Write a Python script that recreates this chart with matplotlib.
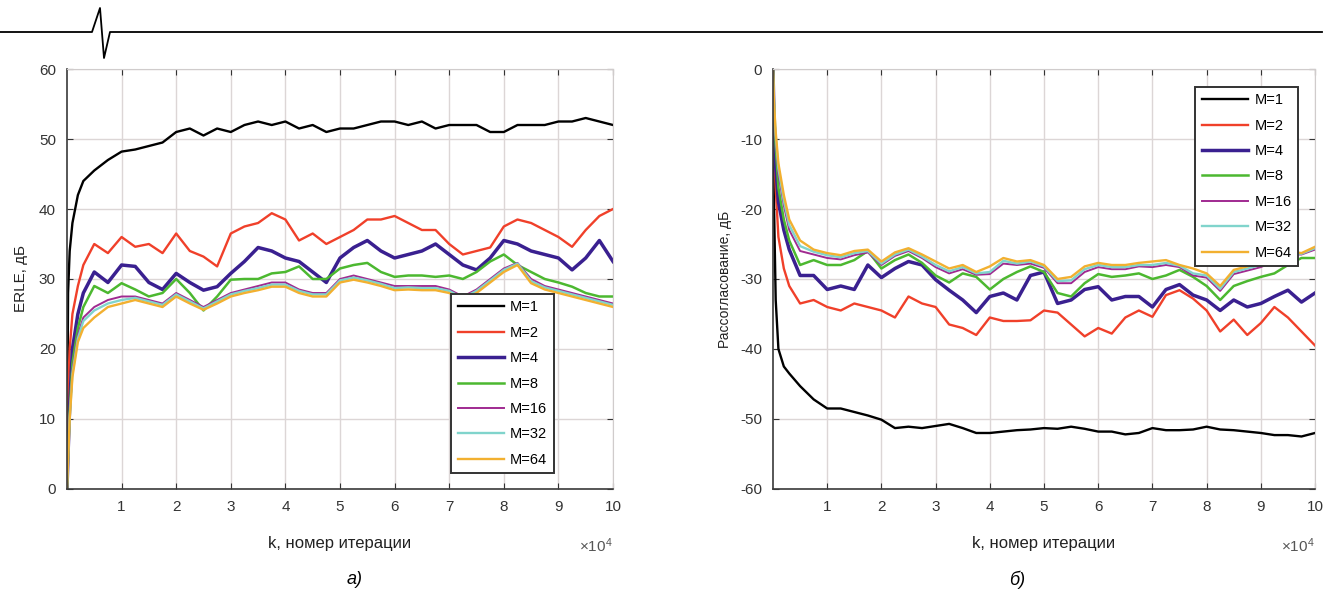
import matplotlib
matplotlib.use("Agg")
import matplotlib.pyplot as plt
from matplotlib.lines import Line2D

plt.rcParams['font.family'] = ['Liberation Sans', 'DejaVu Sans']
plt.rcParams['mathtext.fontset'] = 'custom'
plt.rcParams['mathtext.rm'] = 'Liberation Sans'
plt.rcParams['mathtext.it'] = 'Liberation Sans:italic'
plt.rcParams['axes.unicode_minus'] = False

# iteration index, in units of 1e4
k = [0, 0.02, 0.05, 0.1, 0.2, 0.3, 0.5, 0.75, 1.0, 1.25, 1.5, 1.75, 2.0, 2.25, 2.5, 2.75,
     3.0, 3.25, 3.5, 3.75, 4.0, 4.25, 4.5, 4.75, 5.0, 5.25, 5.5, 5.75, 6.0, 6.25, 6.5, 6.75,
     7.0, 7.25, 7.5, 7.75, 8.0, 8.25, 8.5, 8.75, 9.0, 9.25, 9.5, 9.75, 10.0]

labels = ['M=1', 'M=2', 'M=4', 'M=8', 'M=16', 'M=32', 'M=64']
colors = ['#000000', '#f0402a', '#3a2090', '#4cb830', '#a02a90', '#80d4cc', '#f2b030']
widths = [1.7, 1.7, 2.5, 1.8, 1.4, 1.7, 1.7]

# (a) ERLE, dB
erle_m1 = [0, 28, 34, 38, 42, 44, 45.5, 47, 48.2, 48.5, 49, 49.5, 51, 51.5, 50.5, 51.5,
           51, 52, 52.5, 52, 52.5, 51.5, 52, 51, 51.5, 51.5, 52, 52.5, 52.5, 52, 52.5, 51.5,
           52, 52, 52, 51, 51, 52, 52, 52, 52.5, 52.5, 53, 52.5, 52]
erle_m2 = [0, 14, 20, 25, 29, 32, 35, 33.7, 36, 34.6, 35, 33.7, 36.5, 34, 33.2, 31.8,
           36.5, 37.5, 38, 39.4, 38.5, 35.5, 36.5, 35, 36, 37, 38.5, 38.5, 39, 38, 37, 37,
           35, 33.5, 34, 34.5, 37.5, 38.5, 38, 37, 36, 34.6, 37, 39, 40]
erle_m4 = [0, 5, 12, 20, 25, 28, 31, 29.5, 32, 31.8, 29.5, 28.5, 30.8, 29.5, 28.4, 28.9,
           30.8, 32.5, 34.5, 34, 33, 32.5, 31, 29.5, 33, 34.5, 35.5, 34, 33, 33.5, 34, 35,
           33.5, 32, 31.3, 33, 35.5, 35, 34, 33.5, 33, 31.3, 33, 35.5, 32.5]
erle_m8 = [0, 5, 11, 18, 23, 26, 29, 28, 29.4, 28.5, 27.5, 28, 30, 28, 25.5, 27.5,
           29.9, 30, 30, 30.8, 31, 31.8, 30, 30, 31.5, 32, 32.3, 31, 30.3, 30.5, 30.5, 30.3,
           30.5, 30, 31, 32.5, 33.5, 32, 31, 30, 29.5, 28.9, 28, 27.5, 27.5]
erle_m16 = [0, 4.5, 10.5, 17, 22, 24.5, 26, 27, 27.5, 27.5, 27, 26.5, 28, 27, 26, 27,
            28, 28.5, 29, 29.5, 29.5, 28.5, 28, 28, 30, 30.5, 30, 29.5, 29, 29, 29, 29,
            28.5, 27.5, 28.5, 30, 31.5, 32.3, 30, 29, 28.5, 28, 27.5, 27, 26.5]
erle_m32 = [0, 4.2, 10.2, 16.5, 21.5, 24, 25.5, 26.5, 27, 27.3, 26.8, 26.3, 27.8, 26.8, 25.8, 26.8,
            27.8, 28.3, 28.7, 29.2, 29.2, 28.3, 27.8, 27.8, 29.8, 30.2, 29.8, 29.3, 28.7, 28.8, 28.7, 28.7,
            28.3, 27.3, 28.3, 29.8, 31.3, 32.2, 29.7, 28.8, 28.3, 27.8, 27.3, 26.8, 26.3]
erle_m64 = [0, 4, 10, 16, 21, 23, 24.5, 26, 26.5, 27, 26.5, 26, 27.5, 26.5, 25.6, 26.5,
            27.5, 28, 28.4, 28.9, 28.9, 28, 27.5, 27.5, 29.5, 29.9, 29.5, 29, 28.4, 28.5, 28.4, 28.4,
            28, 27, 28, 29.5, 31, 32, 29.4, 28.5, 28, 27.5, 27, 26.5, 26]

# (b) misalignment, dB
mis_m1 = [0, -20, -33, -40, -42.5, -43.5, -45.3, -47.2, -48.5, -48.5, -49, -49.5, -50.1, -51.3, -51.1, -51.3,
          -51, -50.7, -51.3, -52, -52, -51.8, -51.6, -51.5, -51.3, -51.4, -51.1, -51.4, -51.8, -51.8, -52.2, -52,
          -51.3, -51.6, -51.6, -51.5, -51.1, -51.5, -51.6, -51.8, -52, -52.3, -52.3, -52.5, -52]
mis_m2 = [0, -10, -17, -24, -28.5, -31, -33.5, -33, -34, -34.5, -33.5, -34, -34.5, -35.5, -32.5, -33.5,
          -34, -36.5, -37, -38, -35.5, -36, -36, -35.9, -34.5, -34.8, -36.5, -38.2, -37, -37.8, -35.5, -34.5,
          -35.4, -32.3, -31.6, -32.8, -34.5, -37.5, -35.8, -38, -36.3, -34, -35.5, -37.5, -39.5]
mis_m4 = [0, -8, -14, -19, -23, -25.8, -29.5, -29.5, -31.5, -31, -31.5, -28, -29.8, -28.5, -27.5, -28,
          -30.1, -31.6, -33, -34.8, -32.5, -32, -33, -29.5, -29, -33.5, -33, -31.5, -31.1, -33, -32.5, -32.5,
          -34, -31.5, -30.8, -32.3, -33, -34.5, -33, -34, -33.5, -32.5, -31.6, -33.3, -32]
mis_m8 = [0, -6, -11, -17, -21.5, -24.5, -28, -27.3, -28, -28, -27.3, -26, -28.5, -27.3, -26.5, -27.7,
          -29.5, -30.5, -29.2, -29.7, -31.5, -30, -29, -28.2, -29, -32, -32.5, -30.6, -29.3, -29.7, -29.5, -29.2,
          -30, -29.5, -28.7, -29.7, -31, -33, -31, -30.3, -29.7, -29.2, -28, -27, -27]
mis_m16 = [0, -5.5, -10, -15, -19.5, -23, -26, -26.5, -27, -27.2, -26.6, -26.2, -28, -26.7, -26, -27,
           -28.3, -29.2, -28.6, -29.4, -29.3, -27.8, -28, -27.8, -28.4, -30.6, -30.6, -29, -28.3, -28.6, -28.6, -28.2,
           -28.3, -28, -28.3, -29.5, -29.8, -31.7, -29.3, -28.8, -28.3, -27.5, -26.5, -26.5, -25.8]
mis_m32 = [0, -5.2, -9.5, -14.2, -18.8, -22.3, -25.3, -26.1, -26.6, -26.9, -26.3, -26, -27.8, -26.5, -25.8, -26.8,
           -28, -28.9, -28.3, -29.2, -29, -27.4, -27.8, -27.5, -28.2, -30.3, -30.2, -28.6, -28, -28.3, -28.3, -28,
           -28, -27.7, -28.1, -29.2, -29.5, -31.4, -29, -28.5, -28, -27.2, -26.3, -26.4, -25.6]
mis_m64 = [0, -5, -9, -13.5, -18, -21.5, -24.5, -25.8, -26.3, -26.6, -26, -25.8, -27.5, -26.2, -25.6, -26.5,
           -27.5, -28.5, -28, -29, -28.2, -27, -27.5, -27.3, -28, -30, -29.7, -28.2, -27.7, -28, -28, -27.7,
           -27.5, -27.3, -28, -28.5, -29.2, -31, -28.7, -28.2, -27.5, -26.8, -26, -26.3, -25.4]

erle = [erle_m1, erle_m2, erle_m4, erle_m8, erle_m16, erle_m32, erle_m64]
mis = [mis_m1, mis_m2, mis_m4, mis_m8, mis_m16, mis_m32, mis_m64]

fig = plt.figure(figsize=(13.42, 5.98), dpi=100)
ax1 = fig.add_axes([0.0499, 0.1823, 0.4069, 0.7023])
ax2 = fig.add_axes([0.576, 0.1823, 0.4039, 0.7023])


def style(ax):
    ax.set_xlim(0, 10)
    ax.set_xticks(range(1, 11))
    ax.grid(True, color='#dcd6d6', lw=1.0)
    ax.set_axisbelow(True)
    ax.tick_params(direction='in', length=4, labelsize=11, colors='#333333', pad=8,
                   top=True, right=True)
    for s in ['left', 'bottom']:
        ax.spines[s].set_color('#3a3a3a')
        ax.spines[s].set_linewidth(1.2)
    for s in ['top', 'right']:
        ax.spines[s].set_color('#d0cccc')
    ax.text(1.0, -0.135, r'$\times10^{4}$', transform=ax.transAxes, ha='right', va='center',
            fontsize=11, color='#555555')


def legend(ax, **kw):
    leg = ax.legend(fontsize=10.5, handlelength=3.2, handletextpad=0.4, labelspacing=0.78,
                    fancybox=False, edgecolor='#333333', framealpha=1, borderpad=0.45, **kw)
    leg.get_frame().set_linewidth(1.4)


for ys, lab, c, w in zip(erle, labels, colors, widths):
    ax1.plot(k, ys, color=c, lw=w, label=lab)
style(ax1)
ax1.set_ylim(0, 60)
ax1.set_yticks(range(0, 61, 10))
ax1.set_xlabel('k, номер итерации', fontsize=12, color='#222222', labelpad=16)
ax1.set_ylabel('ERLE, дБ', fontsize=11, color='#222222', labelpad=8)
legend(ax1, loc='lower right', bbox_to_anchor=(0.905, 0.02))

for ys, lab, c, w in zip(mis, labels, colors, widths):
    ax2.plot(k, ys, color=c, lw=w, label=lab)
style(ax2)
ax2.set_ylim(-60, 0)
ax2.set_yticks(range(-60, 1, 10))
ax2.set_xlabel('k, номер итерации', fontsize=12, color='#222222', labelpad=16)
ax2.set_ylabel('Рассогласование, дБ', fontsize=10, color='#222222', labelpad=6)
legend(ax2, loc='upper right', bbox_to_anchor=(0.982, 0.975))

# header rule with a pulse
W, H = 1342, 598
hx = [0, 92, 100, 104, 110, 1322]
hy = [32, 32, 8, 58, 32, 32]
fig.add_artist(Line2D([x / W for x in hx], [1 - y / H for y in hy], color='black', lw=1.3,
                      transform=fig.transFigure))

fig.text(355 / W, 1 - 580 / H, 'а)', fontsize=13, style='italic', ha='center', va='center')
fig.text(1017 / W, 1 - 580 / H, 'б)', fontsize=13, style='italic', ha='center', va='center')

fig.savefig('out.png', dpi=100)
